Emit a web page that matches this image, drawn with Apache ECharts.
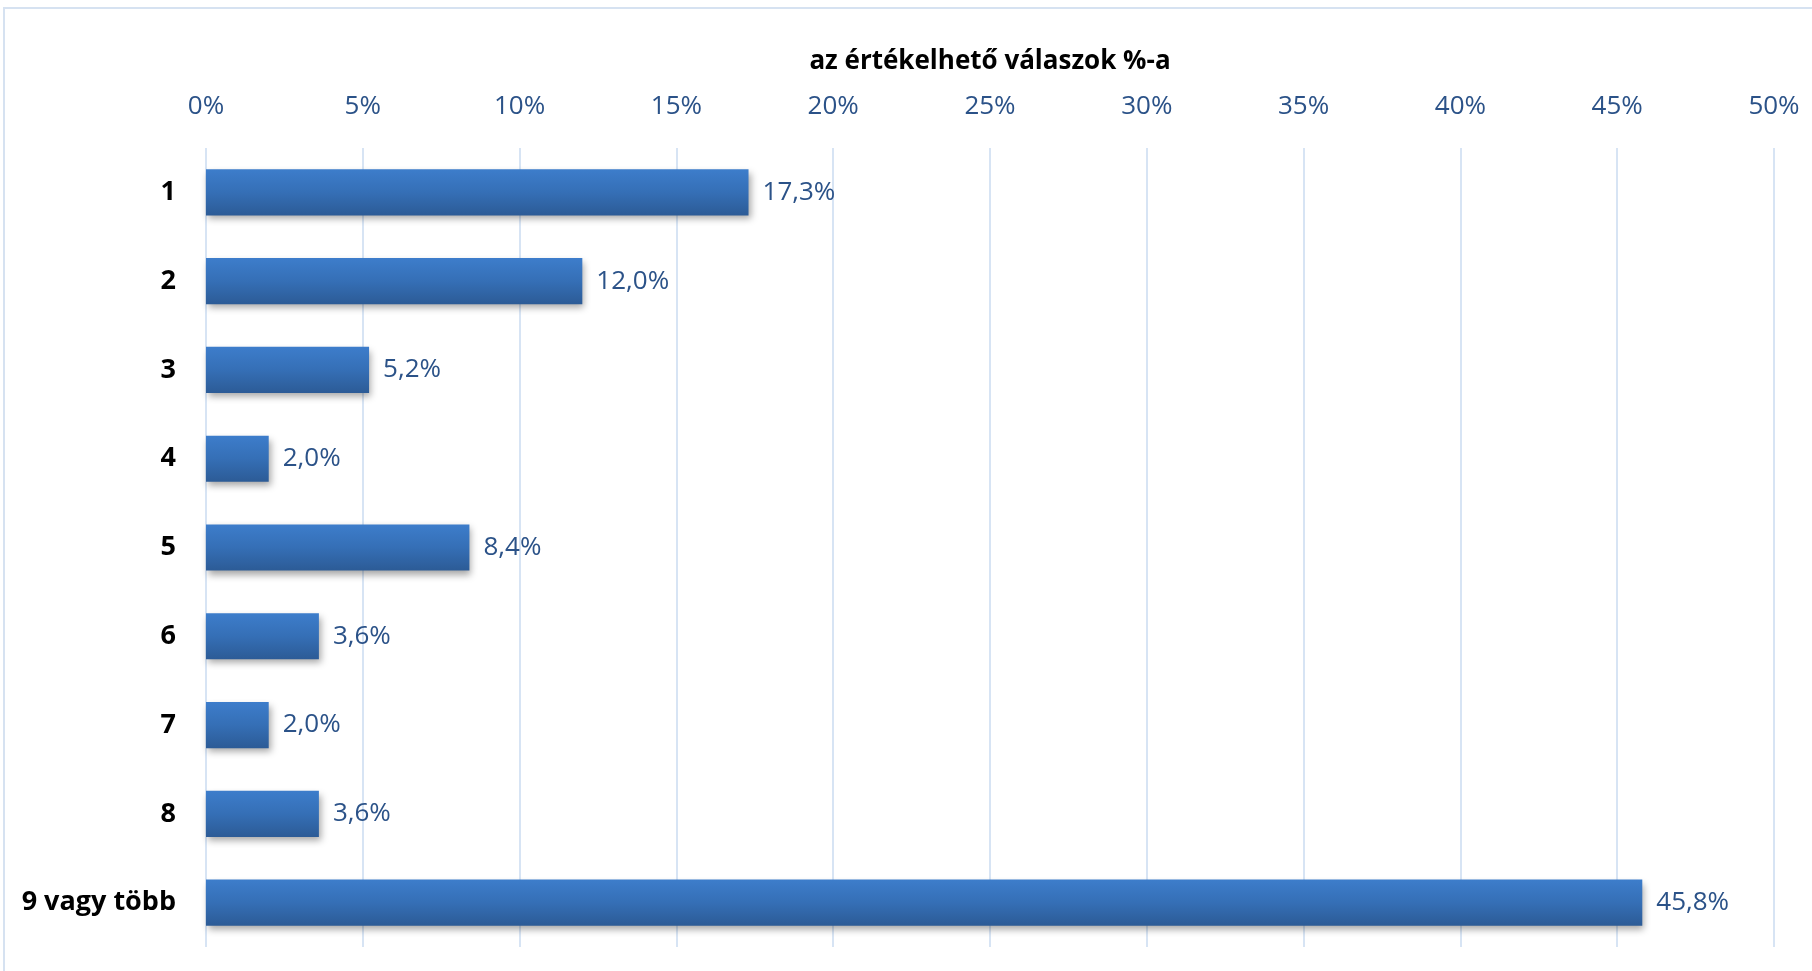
<!DOCTYPE html>
<html>
<head>
<meta charset="utf-8">
<script src="https://cdn.jsdelivr.net/npm/echarts@6/dist/echarts.min.js"></script>
<style>
html,body{margin:0;padding:0;background:#fff;}
#chart{width:1812px;height:971px;}
</style>
</head>
<body>
<div id="chart"></div>
<script>
const categories = ['1', '2', '3', '4', '5', '6', '7', '8', '9 vagy több'];
const values = [17.3, 12.0, 5.2, 2.0, 8.4, 3.6, 2.0, 3.6, 45.8];
const axisTitle = 'az értékelhető válaszok %-a';
const xMin = 0, xMax = 50, xStep = 5;

const FONT = '"Open Sans", sans-serif';
const chart = echarts.init(document.getElementById('chart'), null, {renderer: 'canvas'});
chart.setOption({
  animation: false,
  backgroundColor: '#ffffff',
  graphic: [
    {type: 'rect', shape: {x: 4, y: 8, width: 1900, height: 1100}, style: {fill: 'none', stroke: '#d6e2f1', lineWidth: 2}, silent: true, z: -1},
    {type: 'text', x: 990, y: 62, style: {text: axisTitle, textAlign: 'center', textVerticalAlign: 'middle', font: 'bold 26px ' + FONT, fill: '#000000'}}
  ],
  grid: {left: 206, right: 38, top: 148, bottom: 24, containLabel: false},
  xAxis: {
    type: 'value', position: 'top', min: xMin, max: xMax, interval: xStep,
    axisLine: {show: false}, axisTick: {show: false},
    axisLabel: {formatter: '{value}%', color: '#2b5288', fontFamily: FONT, fontSize: 26, margin: 28},
    splitLine: {show: true, lineStyle: {color: '#d7e4f4', width: 2}}
  },
  yAxis: {
    type: 'category', data: categories, inverse: true,
    axisLine: {show: false}, axisTick: {show: false},
    axisLabel: {color: '#000000', fontFamily: FONT, fontWeight: 'bold', fontSize: 27, margin: 30}
  },
  series: [{
    type: 'bar', data: values, barCategoryGap: '48%',
    itemStyle: {
      color: new echarts.graphic.LinearGradient(0, 0, 0, 1, [
        {offset: 0, color: '#3d7dcb'},
        {offset: 0.5, color: '#356fb6'},
        {offset: 1, color: '#2c5b96'}
      ]),
      shadowColor: 'rgba(0,0,0,0.35)', shadowBlur: 7, shadowOffsetX: 2, shadowOffsetY: 4
    },
    label: {
      show: true, position: 'right', distance: 14, color: '#2b5288', fontFamily: FONT, fontSize: 26,
      padding: [4, 0, 0, 0],
      formatter: p => p.value.toFixed(1).replace('.', ',') + '%'
    }
  }]
});
</script>
</body>
</html>
